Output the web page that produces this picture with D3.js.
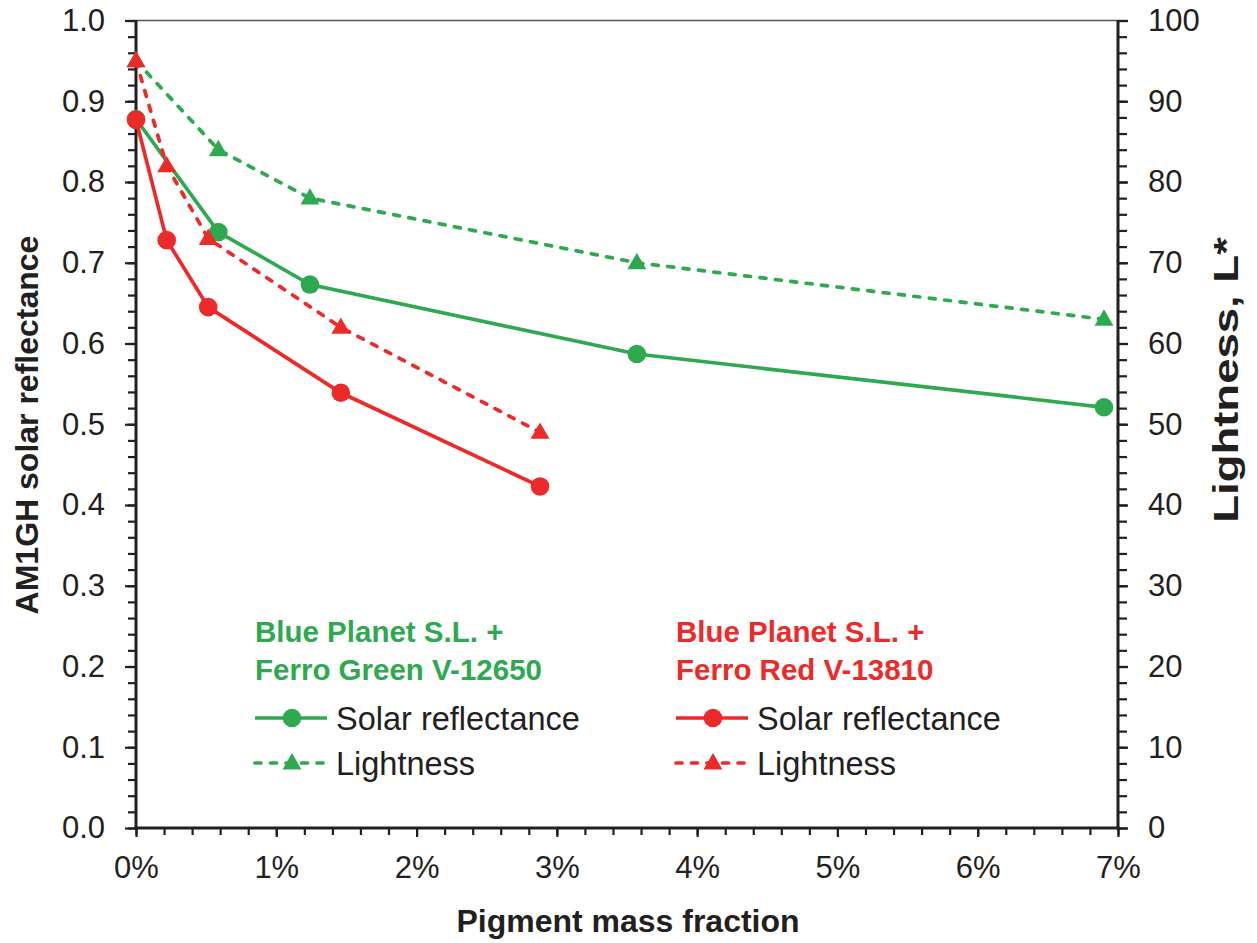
<!DOCTYPE html>
<html><head><meta charset="utf-8">
<script src="https://cdn.jsdelivr.net/npm/d3@7"></script>
<style>
body{margin:0;background:#fff;}
text{font-family:"Liberation Sans",Arial,sans-serif;fill:#231f20;}
</style></head>
<body><svg id="c" width="1257" height="943"></svg>
<script>
// ---- data (percent pigment mass fraction) ----
const greenX  = [0, 0.587, 1.24, 3.57, 6.90];
const greenSR = [0.878, 0.738, 0.673, 0.587, 0.521];
const greenL  = [95, 84, 78, 70, 63];
const redX    = [0, 0.219, 0.515, 1.46, 2.88];
const redSR   = [0.877, 0.728, 0.645, 0.539, 0.423];
const redL    = [95, 82, 73, 62, 49];
const xTicks  = [0,1,2,3,4,5,6,7];
const yLTicks = [0,0.1,0.2,0.3,0.4,0.5,0.6,0.7,0.8,0.9,1.0];
const yRTicks = [0,10,20,30,40,50,60,70,80,90,100];
const greenTitle = ["Blue Planet S.L. +", "Ferro Green V-12650"];
const redTitle   = ["Blue Planet S.L. +", "Ferro Red V-13810"];
const legendLabels = ["Solar reflectance", "Lightness"];

const GREEN = "#2ea94f", RED = "#ed2a2a", INK = "#231f20";
const L = 136, R = 1118, T = 20.5, B = 828;
const svg = d3.select("#c");
const x  = d3.scaleLinear().domain([0,7]).range([L,R]);
const yL = d3.scaleLinear().domain([0,1]).range([B,T]);
const yR = d3.scaleLinear().domain([0,100]).range([B,T]);

// top border
svg.append("line").attr("x1",L).attr("x2",R).attr("y1",T).attr("y2",T)
  .attr("stroke","#555").attr("stroke-width",1.5);

function styleAxis(g){
  g.select(".domain").remove();
  g.selectAll("line").attr("stroke",INK).attr("stroke-width",2.2);
  g.selectAll("text").style("font-size","31px").attr("fill",INK);
}
// minor ticks
const minorX = d3.range(0,7.0001,0.2);
svg.append("g").attr("transform",`translate(0,${B})`)
  .call(d3.axisBottom(x).tickValues(minorX).tickSize(7).tickFormat(""))
  .call(styleAxis);
svg.append("g").attr("transform",`translate(0,${B})`)
  .call(d3.axisBottom(x).tickValues(xTicks).tickSize(9).tickPadding(19).tickFormat(d=>d+"%"))
  .call(styleAxis);
svg.append("g").attr("transform",`translate(${L},0)`)
  .call(d3.axisLeft(yL).tickValues(d3.range(0,1.0001,0.02)).tickSize(8).tickFormat(""))
  .call(styleAxis);
svg.append("g").attr("transform",`translate(${L},0)`)
  .call(d3.axisLeft(yL).tickValues(yLTicks).tickSize(11).tickPadding(20).tickFormat(d3.format(".1f")))
  .call(styleAxis);
svg.append("g").attr("transform",`translate(${R},0)`)
  .call(d3.axisRight(yR).tickValues(d3.range(0,100.001,2)).tickSize(9).tickFormat(""))
  .call(styleAxis);
svg.append("g").attr("transform",`translate(${R},0)`)
  .call(d3.axisRight(yR).tickValues(yRTicks).tickSize(10).tickPadding(20).tickFormat(d3.format("d")))
  .call(styleAxis);
// axis lines
svg.append("line").attr("x1",L).attr("x2",L).attr("y1",T-0.5).attr("y2",B+1.5).attr("stroke",INK).attr("stroke-width",3);
svg.append("line").attr("x1",R).attr("x2",R).attr("y1",T-0.5).attr("y2",B+1.5).attr("stroke",INK).attr("stroke-width",3);
svg.append("line").attr("x1",L-1.5).attr("x2",R+1.5).attr("y1",B).attr("y2",B).attr("stroke",INK).attr("stroke-width",3);

// axis titles
svg.append("text").attr("transform","translate(38,425) rotate(-90)").attr("text-anchor","middle")
  .style("font-size","32px").style("font-weight","bold").text("AM1GH solar reflectance");
svg.append("text").attr("transform","translate(1238,380) rotate(-90) scale(1.3,1)").attr("text-anchor","middle")
  .style("font-size","35px").style("font-weight","bold").text("Lightness, L*");
svg.append("text").attr("x",628).attr("y",932).attr("text-anchor","middle")
  .style("font-size","32px").style("font-weight","bold").text("Pigment mass fraction");

// series
const tri = d3.symbol().type(d3.symbolTriangle).size(155);
function series(xs, ys, yScale, color, dashed, marker){
  const pts = xs.map((v,i)=>[x(v), yScale(ys[i])]);
  svg.append("path").attr("d",d3.line()(pts)).attr("fill","none")
    .attr("stroke",color).attr("stroke-width",3.7)
    .attr("stroke-dasharray",dashed?"6,9.5":null).attr("stroke-linecap",dashed?"round":"butt");
  pts.forEach(p=>{
    if(marker==="circle") svg.append("circle").attr("cx",p[0]).attr("cy",p[1]).attr("r",9.3).attr("fill",color);
    else svg.append("path").attr("d",tri).attr("transform",`translate(${p[0]},${p[1]+1})`).attr("fill",color);
  });
}
series(greenX, greenL, yR, GREEN, true, "tri");
series(greenX, greenSR, yL, GREEN, false, "circle");
series(redX, redL, yR, RED, true, "tri");
series(redX, redSR, yL, RED, false, "circle");

// legends
function legend(x0, color, title){
  title.forEach((t,i)=>svg.append("text").attr("x",x0).attr("y",642+i*38)
    .style("font-size","29.5px").style("font-weight","bold").style("fill",color).text(t));
  const rows=[{y:718,dash:false,m:"circle"},{y:763,dash:true,m:"tri"}];
  rows.forEach((r,i)=>{
    svg.append("line").attr("x1",x0).attr("x2",x0+72).attr("y1",r.y).attr("y2",r.y)
      .attr("stroke",color).attr("stroke-width",3.7)
      .attr("stroke-dasharray",r.dash?"6,9.5":null).attr("stroke-linecap",r.dash?"round":"butt");
    if(r.m==="circle") svg.append("circle").attr("cx",x0+37).attr("cy",r.y).attr("r",9.3).attr("fill",color);
    else svg.append("path").attr("d",tri).attr("transform",`translate(${x0+37},${r.y+1})`).attr("fill",color);
    svg.append("text").attr("x",x0+81).attr("y",r.y+12).style("font-size","32.5px").text(legendLabels[i]);
  });
}
legend(255, GREEN, greenTitle);
legend(676, RED, redTitle);
</script></body></html>
